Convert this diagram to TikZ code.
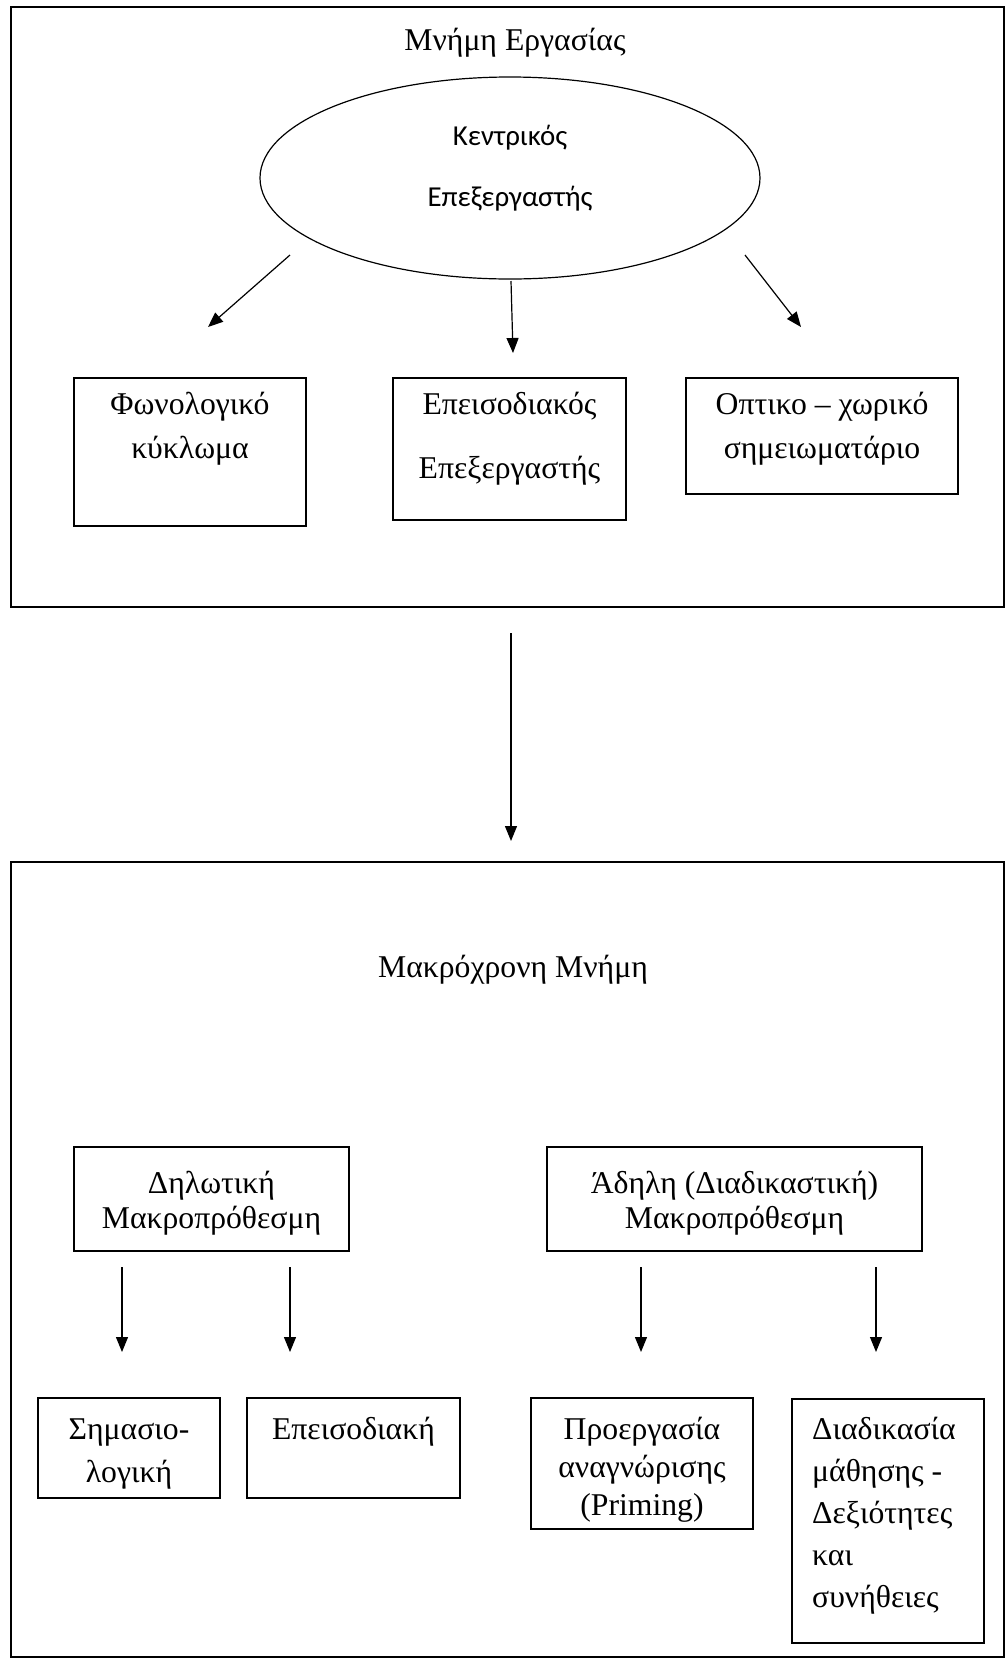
\documentclass[tikz,border=0pt]{standalone}
\usepackage{fontspec}
\setmainfont{Liberation Serif}
\newfontfamily\calib{Carlito}
\usetikzlibrary{arrows.meta,shapes.geometric}
\begin{document}
\begin{tikzpicture}[x=1pt,y=-1pt,
  frame/.style={draw, line width=2pt, inner sep=0, outer sep=0, anchor=north west},
  bx/.style={draw, line width=1.5pt, inner sep=0, outer sep=0, anchor=north west},
  tx/.style={inner sep=0, anchor=base, font=\fontsize{31.7}{36}\selectfont},
  tl/.style={inner sep=0, anchor=base west, font=\fontsize{31.7}{36}\selectfont},
  cb/.style={inner sep=0, anchor=base, font=\calib\fontsize{28.9}{34}\selectfont},
  arr/.style={-{Triangle[length=15pt,width=12pt]}, line width=1.2pt}]
\useasboundingbox (0,0) rectangle (1005,1658);
% ---------- working memory ----------
\node[frame, minimum width=993.5pt, minimum height=600pt] (wm) at (10.5,7) {};
\node[tx] (wmt) at (515,50) {Μνήμη Εργασίας};
\node[draw, ellipse, line width=1.2pt, inner sep=0, outer sep=0,
      minimum width=500pt, minimum height=202pt] (ce) at (510,178) {};
\node[cb] (ce1) at (510,145) {Κεντρικός};
\node[cb] (ce2) at (510,206) {Επεξεργαστής};
\node[bx, minimum width=232pt, minimum height=148pt] (phon) at (74,378) {};
\node[tx] at (190,414) {Φωνολογικό};
\node[tx] at (190,458) {κύκλωμα};
\node[bx, minimum width=233pt, minimum height=142pt] (epis) at (393,378) {};
\node[tx] at (509.5,414) {Επεισοδιακός};
\node[tx] at (509.5,478) {Επεξεργαστής};
\node[bx, minimum width=272pt, minimum height=116pt] (opt) at (686,378) {};
\node[tx] at (822,414) {Οπτικο – χωρικό};
\node[tx] at (822,458) {σημειωματάριο};
\coordinate (a1s) at (290,255); \coordinate (a1e) at (208,327);
\coordinate (a2s) at (511,281); \coordinate (a2e) at (513,353);
\coordinate (a3s) at (745,255); \coordinate (a3e) at (801,327);
\draw[arr] (a1s) -- (a1e);
\draw[arr] (a2s) -- (a2e);
\draw[arr] (a3s) -- (a3e);
% ---------- link ----------
\coordinate (bas) at (511,633); \coordinate (bae) at (511,841);
\draw[arr] (bas) -- (bae);
% ---------- long-term memory ----------
\node[frame, minimum width=993.5pt, minimum height=795pt] (ltm) at (10.5,862) {};
\node[tx] (ltmt) at (513,977) {Μακρόχρονη Μνήμη};
\node[bx, minimum width=275pt, minimum height=104pt] (dec) at (74,1147) {};
\node[tx] at (211.5,1193) {Δηλωτική};
\node[tx] at (211.5,1228) {Μακροπρόθεσμη};
\node[bx, minimum width=375pt, minimum height=104pt] (imp) at (547,1147) {};
\node[tx] at (734.5,1193) {Άδηλη (Διαδικαστική)};
\node[tx] at (734.5,1228) {Μακροπρόθεσμη};
\foreach \n/\x in {b1/122,b2/290,b3/641,b4/876}{
  \coordinate (\n s) at (\x,1267); \coordinate (\n e) at (\x,1352);
  \draw[arr] (\n s) -- (\n e);
}
\node[bx, minimum width=182pt, minimum height=100pt] (sem) at (38,1398) {};
\node[tx] at (129,1439) {Σημασιο-};
\node[tx] at (129,1482) {λογική};
\node[bx, minimum width=213pt, minimum height=100pt] (epi) at (247,1398) {};
\node[tx] at (353.5,1439) {Επεισοδιακή};
\node[bx, minimum width=222pt, minimum height=131pt] (pri) at (531,1398) {};
\node[tx] at (642,1439) {Προεργασία};
\node[tx] at (642,1477) {αναγνώρισης};
\node[tx] at (642,1515) {(Priming)};
\node[bx, minimum width=192pt, minimum height=244pt] (pro) at (792,1399) {};
\node[tl] at (812,1439) {Διαδικασία};
\node[tl] at (812,1481) {μάθησης -};
\node[tl] at (812,1523) {Δεξιότητες};
\node[tl] at (812,1565) {και};
\node[tl] at (812,1607) {συνήθειες};
\end{tikzpicture}
\end{document}
